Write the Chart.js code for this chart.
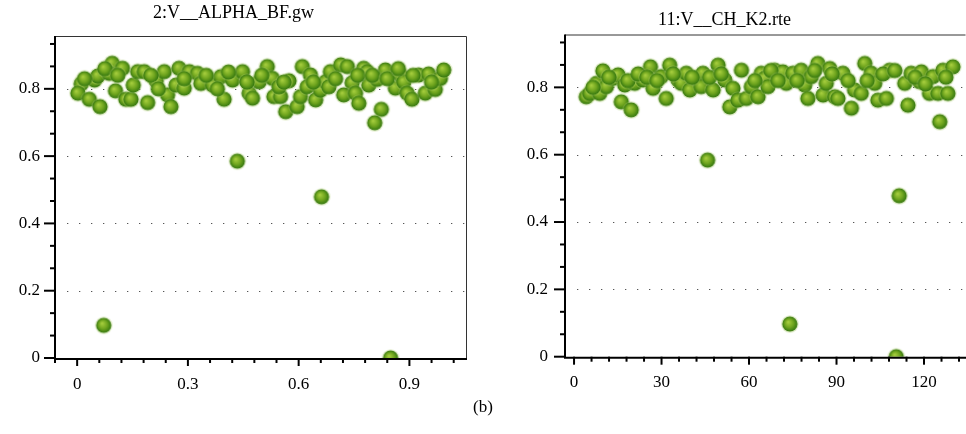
<!DOCTYPE html>
<html>
<head>
<meta charset="utf-8">
<script src="https://cdn.jsdelivr.net/npm/chart.js@4.4.0/dist/chart.umd.min.js"></script>
<style>
  body { margin: 0; background: #fff; width: 966px; height: 434px; overflow: hidden; position: relative; }
  canvas { position: absolute; top: 0; }
  #lbl { position: absolute; left: 0; width: 966px; top: 397px; text-align: center;
         font-family: "Liberation Serif", serif; font-size: 17px; color: #000; }
</style>
</head>
<body>
<canvas id="leftChart" width="483" height="400" style="left:0"></canvas>
<canvas id="rightChart" width="483" height="400" style="left:483px"></canvas>
<div id="lbl">(b)</div>
<script>
// ---- data ----
const leftTitle = '2:V__ALPHA_BF.gw';
const rightTitle = '11:V__CH_K2.rte';

// left: parameter value vs objective
const leftX = [0.011,0.002,0.033,0.062,0.047,0.056,0.095,0.087,0.123,0.104,0.132,0.146,0.152,0.164,0.182,0.191,0.214,0.236,0.245,0.254,
  0.268,0.276,0.29,0.304,0.326,0.335,0.367,0.389,0.398,0.421,0.448,0.466,0.475,0.493,0.515,0.529,0.533,0.551,0.547,0.565,
  0.574,0.596,0.61,0.605,0.632,0.623,0.646,0.659,0.673,0.686,0.682,0.714,0.732,0.745,0.722,0.754,0.763,0.776,0.786,0.79,
  0.813,0.835,0.824,0.806,0.862,0.876,0.885,0.894,0.907,0.925,0.943,0.952,0.97,0.984,0.993,
  0.02,0.075,0.11,0.2,0.22,0.29,0.35,0.38,0.41,0.46,0.5,0.56,0.64,0.70,0.76,0.80,0.84,0.87,0.91,0.96,
  0.072,0.434,0.662,0.849];
const leftY = [0.815,0.787,0.769,0.747,0.826,0.838,0.876,0.846,0.861,0.794,0.769,0.769,0.811,0.851,0.851,0.759,0.824,0.851,0.782,0.747,
  0.811,0.861,0.802,0.851,0.846,0.816,0.811,0.836,0.769,0.826,0.851,0.787,0.772,0.821,0.866,0.831,0.777,0.777,0.806,0.732,
  0.824,0.747,0.866,0.777,0.841,0.806,0.767,0.796,0.821,0.851,0.806,0.871,0.866,0.818,0.782,0.787,0.757,0.861,0.851,0.811,
  0.828,0.856,0.739,0.699,0.802,0.841,0.821,0.787,0.769,0.841,0.787,0.844,0.798,0.831,0.856,
  0.83,0.86,0.84,0.84,0.80,0.83,0.84,0.80,0.85,0.82,0.84,0.82,0.82,0.83,0.84,0.84,0.83,0.86,0.84,0.82,
  0.097,0.585,0.479,0.0];

// right: run index vs objective
const rightX = [4.2,5.4,7.7,8.8,9.9,11.1,13.4,15.1,16.2,17.4,19.6,20.8,23.7,26.2,27.1,29.9,31.6,32.8,35.7,36.8,
  38.5,39.7,41.9,44.2,43.6,47.7,49.4,51.7,54.5,53.4,57.4,56.2,59.1,60.8,63.1,64.2,65.4,66.5,68.8,71.6,
  72.8,75.1,77.9,79.1,81.4,80.2,83.6,85.4,86.5,87.7,89.4,90.5,92.2,95.1,96.2,98.5,99.7,101.9,103.1,104.2,
  107.1,108.2,113.4,114.5,115.6,118.5,119.1,121.9,123.1,124.8,126.5,128.2,129.9,125.4,
  6.5,12,18.5,22,25,28.5,34,40.5,46.5,50.5,62,67.5,70,76.5,82.5,88.5,94,100.5,106,110,117,120.5,127.5,
  45.8,111.5,74,110.5];
const rightY = [0.772,0.782,0.812,0.782,0.849,0.802,0.827,0.837,0.757,0.807,0.733,0.812,0.822,0.861,0.797,0.832,0.767,0.866,0.822,0.812,
  0.842,0.792,0.827,0.842,0.802,0.792,0.866,0.822,0.797,0.742,0.851,0.762,0.767,0.802,0.772,0.842,0.827,0.802,0.851,0.846,
  0.812,0.842,0.851,0.807,0.832,0.767,0.871,0.777,0.812,0.856,0.772,0.767,0.842,0.738,0.792,0.782,0.871,0.842,0.812,0.762,
  0.767,0.851,0.812,0.747,0.842,0.817,0.846,0.782,0.832,0.782,0.851,0.782,0.861,0.698,
  0.80,0.83,0.82,0.84,0.83,0.82,0.84,0.83,0.83,0.84,0.82,0.85,0.82,0.82,0.85,0.84,0.82,0.82,0.84,0.85,0.83,0.81,0.83,
  0.584,0.478,0.097,0.0];

// ticks
const yMajor = [0, 0.2, 0.4, 0.6, 0.8];
const leftXMajor = [0, 0.3, 0.6, 0.9];
const rightXMajor = [0, 30, 60, 90, 120];

const FONT = '"Liberation Serif", "Times New Roman", serif';

// green ball marker
function makeBall() {
  const c = document.createElement('canvas');
  c.width = 20; c.height = 20;
  const g = c.getContext('2d');
  g.fillStyle = 'rgba(170,200,100,0.35)';
  g.beginPath(); g.arc(10, 10, 8.8, 0, Math.PI * 2); g.fill();
  const grd = g.createRadialGradient(8.3, 8, 0.5, 10, 10, 7.6);
  grd.addColorStop(0, '#a4cc3c');
  grd.addColorStop(0.55, '#6ea41e');
  grd.addColorStop(1, '#33760f');
  g.fillStyle = grd;
  g.beginPath(); g.arc(10, 10, 7.6, 0, Math.PI * 2); g.fill();
  return c;
}
const ball = makeBall();

function withMinor(majors, step, min, max) {
  const out = [];
  const sub = step / 5;
  for (let v = majors[0] - 5 * sub; v <= max + 1e-9; v += sub) {
    if (v >= min - 1e-9) out.push(+v.toFixed(6));
  }
  return out;
}
function yTicksList() {
  const out = [];
  for (let i = 0; i < yMajor.length; i++) {
    out.push(yMajor[i]);
    out.push(+(yMajor[i] + 0.2 / 3).toFixed(6));
    out.push(+(yMajor[i] + 0.4 / 3).toFixed(6));
  }
  return out;
}
function isMajor(v, list) {
  return list.some(m => Math.abs(m - v) < 1e-6);
}

// frame, dotted grid and ticks of two lengths
const axisMarks = {
  id: 'axisMarks',
  beforeDatasetsDraw(chart) {
    const ctx = chart.ctx, a = chart.chartArea, ys = chart.scales.y;
    ctx.save();
    ctx.strokeStyle = '#555';
    ctx.lineWidth = 1.2;
    ctx.setLineDash([1.3, 10.7]);
    yMajor.forEach(v => {
      if (v === 0) return;
      const y = Math.round(ys.getPixelForValue(v)) + 0.5;
      ctx.beginPath(); ctx.moveTo(a.left + 12, y); ctx.lineTo(a.right, y); ctx.stroke();
    });
    ctx.restore();
  },
  afterDraw(chart) {
    const ctx = chart.ctx, a = chart.chartArea;
    const xs = chart.scales.x, ys = chart.scales.y;
    const xMaj = chart.options.xMajor;
    ctx.save();
    ctx.strokeStyle = '#333';
    ctx.lineWidth = 1;
    ctx.beginPath();
    ctx.moveTo(a.left, a.top + 0.5);
    ctx.lineTo(a.right - 0.5, a.top + 0.5);
    if (a.right < chart.width - 2) ctx.lineTo(a.right - 0.5, a.bottom);
    ctx.stroke();
    ctx.strokeStyle = '#000';
    ctx.lineWidth = 2;
    ctx.beginPath();
    ctx.moveTo(a.left, a.top); ctx.lineTo(a.left, a.bottom + 1);
    ctx.lineTo(a.right, a.bottom + 1);
    ctx.stroke();
    ys.ticks.forEach(t => {
      const y = ys.getPixelForValue(t.value);
      const len = isMajor(t.value, yMajor) ? 11 : 5;
      ctx.beginPath(); ctx.moveTo(a.left, y); ctx.lineTo(a.left - len, y); ctx.stroke();
    });
    xs.ticks.forEach(t => {
      const x = xs.getPixelForValue(t.value);
      const len = isMajor(t.value, xMaj) ? 8 : 5;
      ctx.beginPath(); ctx.moveTo(x, a.bottom); ctx.lineTo(x, a.bottom + len); ctx.stroke();
    });
    ctx.restore();
  }
};

function makeChart(id, title, xs, ysData, xMaj, xStep, xMin, xMax, cfg) {
  const pts = xs.map((x, i) => ({ x: x, y: ysData[i] }));
  const xTicks = withMinor(xMaj, xStep, xMin, xMax);
  const yTicks = yTicksList();
  return new Chart(document.getElementById(id).getContext('2d'), {
    type: 'scatter',
    data: {
      datasets: [{
        data: pts,
        pointStyle: ball,
        pointRadius: 8,
        clip: { left: 0, top: 8, right: 0, bottom: 0 }
      }]
    },
    plugins: [axisMarks],
    options: {
      xMajor: xMaj,
      responsive: false,
      animation: false,
      layout: { autoPadding: false, padding: { left: 0, right: cfg.padRight, top: 0, bottom: 0 } },
      plugins: {
        legend: { display: false },
        tooltip: { enabled: false },
        title: {
          display: true,
          text: title,
          color: '#000',
          font: { family: FONT, size: 18, weight: 'normal' },
          padding: { top: cfg.titleTop, bottom: cfg.titleBottom }
        }
      },
      scales: {
        x: {
          type: 'linear',
          min: xMin, max: xMax,
          grid: { display: false, drawTicks: false },
          border: { display: false },
          afterBuildTicks: s => { s.ticks = xTicks.map(v => ({ value: v })); },
          afterFit: s => { s.height = cfg.xHeight; s.paddingLeft = 0; s.paddingRight = 0; },
          ticks: {
            autoSkip: false, maxRotation: 0, padding: 16,
            color: '#000',
            font: { family: FONT, size: 17 },
            callback: v => isMajor(v, xMaj) ? String(+v.toFixed(2)) : ''
          }
        },
        y: {
          type: 'linear',
          min: 0, max: 0.957,
          grid: { display: false, drawTicks: false },
          border: { display: false },
          afterBuildTicks: s => { s.ticks = yTicks.map(v => ({ value: v })); },
          afterFit: s => { s.width = cfg.yWidth; s.paddingTop = 0; s.paddingBottom = 0; },
          ticks: {
            autoSkip: false, padding: cfg.yPad,
            color: '#000',
            font: { family: FONT, size: 17 },
            callback: v => isMajor(v, yMajor) ? String(+v.toFixed(2)) : ''
          }
        }
      }
    }
  });
}

makeChart('leftChart', leftTitle, leftX, leftY, leftXMajor, 0.3, -0.06, 1.056,
  { yWidth: 55, xHeight: 42, padRight: 16, titleTop: 2, titleBottom: 12.4, yPad: 15 });
makeChart('rightChart', rightTitle, rightX, rightY, rightXMajor, 30, -3.1, 134.4,
  { yWidth: 82, xHeight: 43.3, padRight: 0, titleTop: 9, titleBottom: 3.9, yPad: 17 });
</script>
</body>
</html>
